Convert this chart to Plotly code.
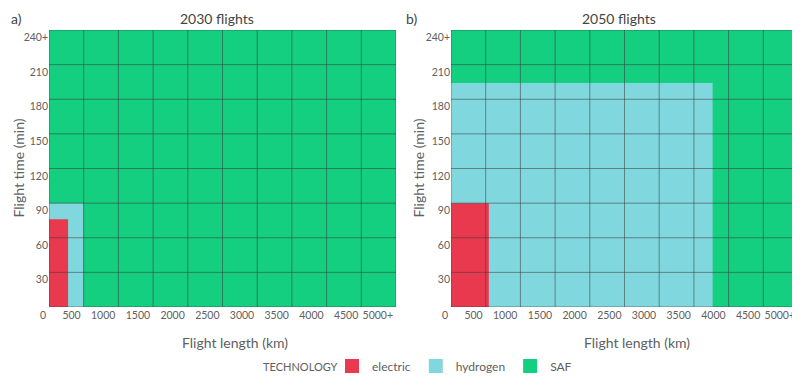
import plotly.graph_objects as go

# flight length bins (km) and flight time bins (min)
x_ticks = [0, 500, 1000, 1500, 2000, 2500, 3000, 3500, 4000, 4500, 5000]
x_labels = ["0", "500", "1000", "1500", "2000", "2500", "3000", "3500", "4000", "4500", "5000+"]
y_ticks = [30, 60, 90, 120, 150, 180, 210, 240]
y_labels = ["30", "60", "90", "120", "150", "180", "210", "240+"]

technologies = ["SAF", "hydrogen", "electric"]
legend_order = ["electric", "hydrogen", "SAF"]
tech_colors = {"electric": "#E8394F", "hydrogen": "#80D8DE", "SAF": "#13CF7F"}

# max flight length (km) / max flight time (min) covered by each technology
limits_2030_km = {"SAF": 5000, "hydrogen": 495, "electric": 275}
limits_2030_min = {"SAF": 240, "hydrogen": 90, "electric": 76}
limits_2050_km = {"SAF": 5000, "hydrogen": 3770, "electric": 545}
limits_2050_min = {"SAF": 240, "hydrogen": 194, "electric": 90}

# the page body has an 8px margin, so the figure is shrunk and positions shifted
OFF = 8
W, H = 800 - OFF, 384 - OFF
FONT = "Lato"
GREY = "#606060"


def fx(px):
    return (px - OFF) / W


def fy(py):
    return 1 - (py - OFF) / H


panels = [
    ("2030 flights", "a)", limits_2030_km, limits_2030_min, (49, 396), 9),
    ("2050 flights", "b)", limits_2050_km, limits_2050_min, (451, 798), 404),
]
plot_top, plot_bottom = 30, 307

fig = go.Figure()

for i, (title, tag, lim_km, lim_min, (px0, px1), tag_x) in enumerate(panels):
    ax = "" if i == 0 else str(i + 1)
    for tech in technologies:
        xk, ym = lim_km[tech], lim_min[tech]
        fig.add_trace(
            go.Scatter(
                x=[0, xk, xk, 0, 0],
                y=[0, 0, ym, ym, 0],
                mode="lines",
                fill="toself",
                fillcolor=tech_colors[tech],
                line=dict(width=0, color=tech_colors[tech]),
                name=tech,
                showlegend=False,
                hoverinfo="skip",
                xaxis="x" + ax,
                yaxis="y" + ax,
            )
        )

    fig.update_layout(
        {
            "xaxis" + ax: dict(
                domain=[fx(px0), fx(px1)],
                range=[0, 5000],
                tickvals=x_ticks,
                ticktext=x_labels,
                ticklabelposition="outside left",
                ticklabelshift=-3,
                tickangle=0,
                automargin=False,
                showgrid=False,
                zeroline=False,
                showline=False,
                ticks="",
                tickfont=dict(size=10.5, color=GREY, family=FONT),
                anchor="y" + ax,
                fixedrange=True,
            ),
            "yaxis" + ax: dict(
                domain=[fy(plot_bottom), fy(plot_top)],
                range=[0, 240],
                tickvals=y_ticks,
                ticktext=y_labels,
                ticklabelposition="outside bottom",
                automargin=False,
                showgrid=False,
                zeroline=False,
                showline=False,
                ticks="",
                tickfont=dict(size=10.5, color=GREY, family=FONT),
                anchor="x" + ax,
                fixedrange=True,
            ),
        }
    )

    # grid drawn on top of the filled areas
    for xv in x_ticks:
        fig.add_shape(type="line", xref="x" + ax, yref="y" + ax + " domain",
                      x0=xv, x1=xv, y0=0, y1=1, layer="above",
                      line=dict(color="rgba(60,60,60,0.55)", width=1))
    for yv in [0] + y_ticks:
        fig.add_shape(type="line", xref="x" + ax + " domain", yref="y" + ax,
                      x0=0, x1=1, y0=yv, y1=yv, layer="above",
                      line=dict(color="rgba(60,60,60,0.55)", width=1))

    cx = (px0 + px1) / 2 - 6
    fig.add_annotation(text=title, x=fx(cx), y=1, xref="paper", yref="paper",
                       showarrow=False, font=dict(size=14, color="#444444", family=FONT),
                       xanchor="center", yanchor="top")
    fig.add_annotation(text=tag, x=fx(tag_x), y=1, xref="paper", yref="paper",
                       showarrow=False, font=dict(size=14, color="#444444", family=FONT),
                       xanchor="left", yanchor="top")
    fig.add_annotation(text="Flight length (km)", x=fx(cx + 18), y=fy(342),
                       xref="paper", yref="paper", showarrow=False,
                       font=dict(size=14, color=GREY, family=FONT),
                       xanchor="center", yanchor="middle")
    fig.add_annotation(text="Flight time (min)", x=max(fx(px0 - 43), 0), y=fy(168),
                       xref="paper", yref="paper", showarrow=False, textangle=-90,
                       font=dict(size=14, color=GREY, family=FONT),
                       xanchor="left", yanchor="middle")

# legend title as its own text, aligned with the legend items
fig.add_annotation(text="TECHNOLOGY", x=fx(261), y=fy(366), xref="paper", yref="paper",
                   showarrow=False, font=dict(size=11, color=GREY, family=FONT),
                   xanchor="left", yanchor="middle")

# legend entries with square swatches
for tech in legend_order:
    fig.add_trace(
        go.Scatter(
            x=[None],
            y=[None],
            mode="markers",
            marker=dict(symbol="square", size=14, color=tech_colors[tech]),
            name=tech,
            showlegend=True,
        )
    )

fig.update_layout(
    width=W,
    height=H,
    margin=dict(l=0, r=0, t=0, b=0),
    paper_bgcolor="white",
    plot_bgcolor="white",
    font=dict(family=FONT, color=GREY),
    legend=dict(
        orientation="h",
        x=fx(332),
        xanchor="left",
        y=fy(366),
        yanchor="middle",
        font=dict(size=12, color=GREY, family=FONT),
        traceorder="normal",
        itemwidth=30,
    ),
)

fig.write_html("out.html")
